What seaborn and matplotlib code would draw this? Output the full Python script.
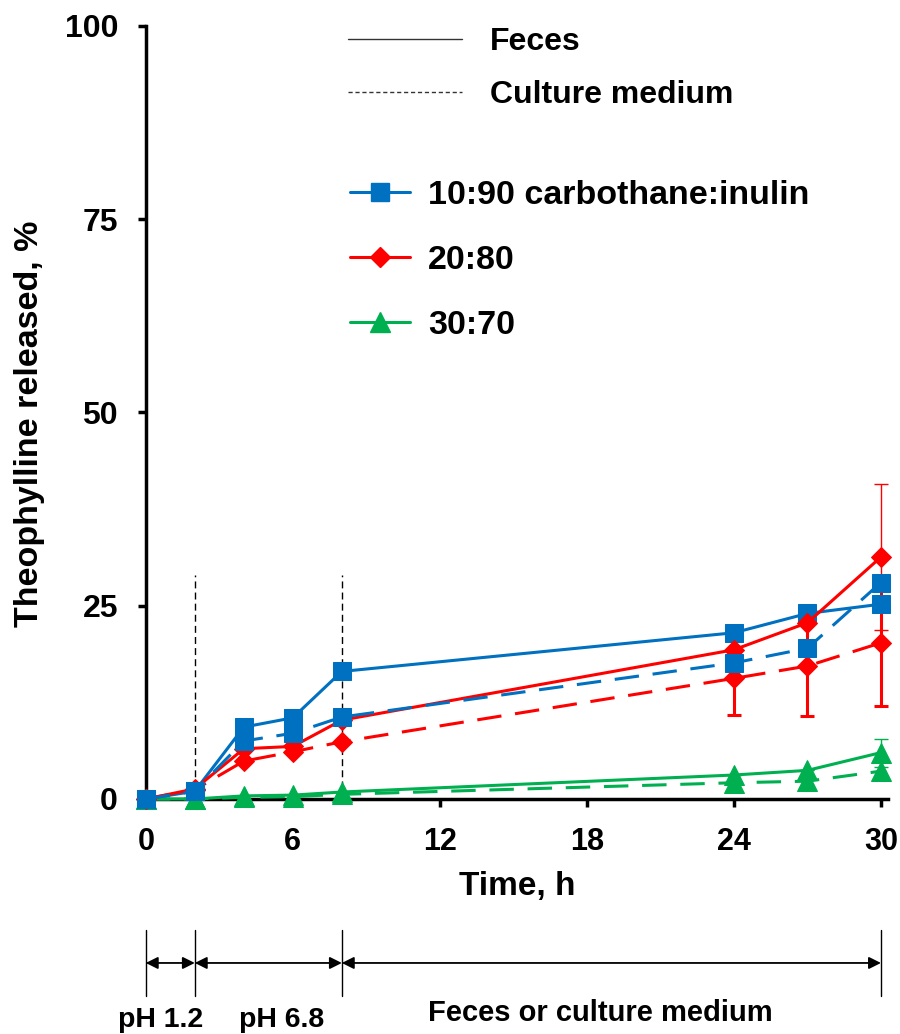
"""
Theophylline release from carbothane:inulin films in feces vs culture medium.
"""
import matplotlib
matplotlib.use("Agg")
import matplotlib.pyplot as plt
import matplotlib.transforms as mtransforms
from matplotlib.lines import Line2D
import seaborn as sns

# time points (h)
time_h = [0, 2, 4, 6, 8, 24, 27, 30]

# % released, feces (solid) and culture medium (dashed)
blue_feces = [0, 1.0, 9.3, 10.5, 16.5, 21.5, 24.0, 25.2]
blue_medium = [0, 1.0, 7.5, 8.5, 10.6, 17.6, 19.5, 28.0]
red_feces = [0, 1.3, 6.5, 6.8, 10.2, 19.3, 22.8, 31.3]
red_medium = [0, 1.2, 4.9, 6.1, 7.4, 15.6, 17.2, 20.2]
green_feces = [0, 0, 0.4, 0.5, 0.9, 3.1, 3.7, 6.0]
green_medium = [0, 0, 0.2, 0.3, 0.6, 2.1, 2.3, 3.6]

# error bars (only the later points carry visible ones)
err_times = [24, 27, 30]
red_feces_err = [0, 0, 9.5]
red_medium_err = [4.8, 6.5, 8.2]
green_feces_err = [0, 0, 1.8]

ratio_labels = ["10:90 carbothane:inulin", "20:80", "30:70"]
medium_labels = ["Feces", "Culture medium"]
phase_bounds = [0, 2, 8, 30]
phase_labels = ["pH 1.2", "pH 6.8", "Feces or culture medium"]

BLUE, RED, GREEN = "#0070C0", "#FF0000", "#00B050"
DASHED = (0, (8, 4.5))

sns.set_theme(style="white")
plt.rcParams["font.family"] = ["Liberation Sans", "DejaVu Sans"]
plt.rcParams["font.weight"] = "bold"
for key in ["text.color", "axes.labelcolor", "xtick.color", "ytick.color"]:
    plt.rcParams[key] = "black"

fig = plt.figure(figsize=(9, 10.34), dpi=100)
ax = fig.add_axes([0.162, 0.2273, 0.825, 0.7476])

# drawing order matters where markers overlap
series = [
    (green_medium, GREEN, "^", 14, DASHED),
    (green_feces, GREEN, "^", 14, "-"),
    (blue_feces, BLUE, "s", 13.5, "-"),
    (red_feces, RED, "D", 10.5, "-"),
    (red_medium, RED, "D", 10.5, DASHED),
    (blue_medium, BLUE, "s", 13.5, DASHED),
]

# error bars under the markers
ax.errorbar(err_times, red_feces[5:], yerr=red_feces_err, fmt="none",
            ecolor=RED, elinewidth=1.0, capsize=5, capthick=1.0, zorder=1)
ax.errorbar(err_times, red_medium[5:], yerr=red_medium_err, fmt="none",
            ecolor=RED, elinewidth=2.2, capsize=5, capthick=2.2, zorder=1)
ax.errorbar(err_times, green_feces[5:], yerr=green_feces_err, fmt="none",
            ecolor=GREEN, elinewidth=1.0, capsize=5, capthick=1.0, zorder=1)

for i, (vals, col, mk, ms, ls) in enumerate(series):
    sns.lineplot(x=time_h, y=vals, ax=ax, color=col, marker=mk, markersize=ms,
                 markeredgecolor=col, linewidth=2.2, linestyle=ls, legend=False,
                 zorder=3 + i, clip_on=False)

# phase boundaries
ax.vlines([2, 8], 0, 29, colors="black", linestyles=(0, (5, 3)), linewidth=1.0, zorder=0)

ax.set_xlim(0, 30.3)
ax.set_ylim(0, 100)
ax.set_xticks([0, 6, 12, 18, 24, 30])
ax.set_yticks([0, 25, 50, 75, 100])
ax.tick_params(axis="both", direction="out", length=6, width=2.5,
               bottom=True, left=True, pad=14)
ax.tick_params(axis="x", labelsize=22)
ax.tick_params(axis="y", labelsize=23)
for lab in ax.get_xticklabels() + ax.get_yticklabels():
    lab.set_fontweight("bold")
for side in ["top", "right"]:
    ax.spines[side].set_visible(False)
for side in ["left", "bottom"]:
    ax.spines[side].set_linewidth(2.5)
    ax.spines[side].set_color("black")
ax.set_xlabel("Time, h", fontsize=24, fontweight="bold", labelpad=10)
ax.set_ylabel("Theophylline released, %", fontsize=24.5, fontweight="bold")
ax.yaxis.set_label_coords(-0.136, 0.485)

# legends
med_handles = [Line2D([], [], color="#333333", lw=1.0, ls="-"),
               Line2D([], [], color="#333333", lw=1.0, ls=(0, (3, 2)))]
leg1 = ax.legend(med_handles, medium_labels, loc="upper left",
                 bbox_to_anchor=(0.3867, 0.974), bbox_transform=fig.transFigure,
                 frameon=False, fontsize=23, handlelength=3.56, handletextpad=0.87,
                 labelspacing=0.73, borderpad=0, borderaxespad=0)
for t in leg1.get_texts():
    t.set_fontweight("bold")
ax.add_artist(leg1)

ratio_handles = [Line2D([], [], color=BLUE, lw=2.2, marker="s", markersize=13.5),
                 Line2D([], [], color=RED, lw=2.2, marker="D", markersize=10.5),
                 Line2D([], [], color=GREEN, lw=2.2, marker="^", markersize=14)]
leg2 = ax.legend(ratio_handles, ratio_labels, loc="upper left",
                 bbox_to_anchor=(0.3889, 0.826), bbox_transform=fig.transFigure,
                 frameon=False, fontsize=24.5, handlelength=1.76, handletextpad=0.53,
                 labelspacing=1.0, borderpad=0, borderaxespad=0)
for t in leg2.get_texts():
    t.set_fontweight("bold")

# phase arrows below the axis
trans = mtransforms.blended_transform_factory(ax.transData, fig.transFigure)
for xb in phase_bounds:
    ax.plot([xb, xb], [0.037, 0.101], transform=trans, color="black", lw=1.0,
            clip_on=False)
for a, b in zip(phase_bounds[:-1], phase_bounds[1:]):
    ax.annotate("", xy=(b, 0.0687), xytext=(a, 0.0687), xycoords=trans,
                textcoords=trans,
                arrowprops=dict(arrowstyle="<|-|>", color="black", lw=1.3,
                                mutation_scale=18, shrinkA=0, shrinkB=0))
fig.text(0.178, 0.0135, phase_labels[0], ha="center", va="center", fontsize=20.5, fontweight="bold")
fig.text(0.313, 0.0135, phase_labels[1], ha="center", va="center", fontsize=20.5, fontweight="bold")
fig.text(0.667, 0.0203, phase_labels[2], ha="center", va="center", fontsize=21, fontweight="bold")

fig.savefig("out.png", dpi=100)
